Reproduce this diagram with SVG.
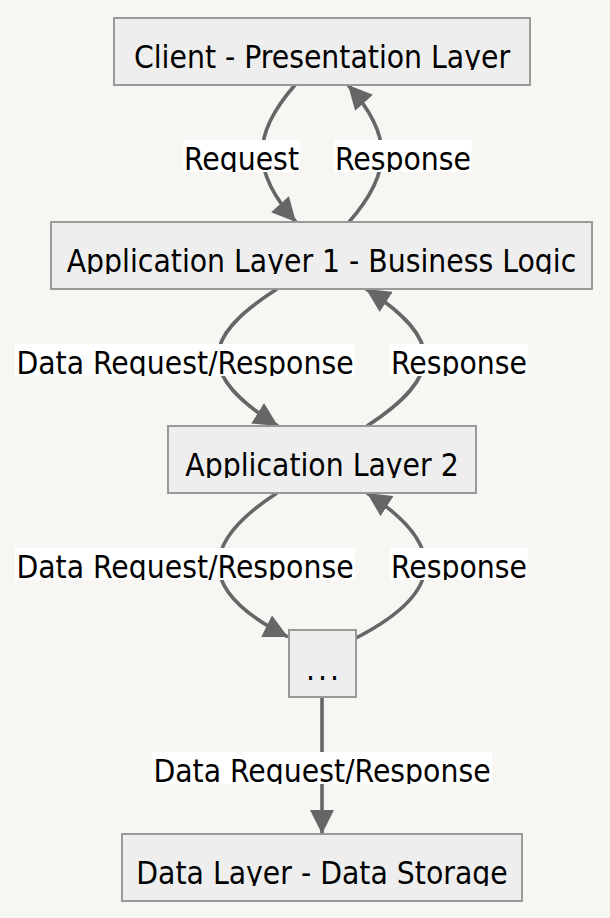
<svg xmlns="http://www.w3.org/2000/svg" width="610" height="918" viewBox="0 0 610 918">
<style>
.bg{fill:#f7f6f3}
.node rect{fill:#eeeeee;stroke:#999999;stroke-width:2}
.t{font-family:"DejaVu Sans Condensed","DejaVu Sans",sans-serif;font-stretch:condensed;font-size:31.5px;fill:#000;text-anchor:middle}
.edge{fill:none;stroke:#666666;stroke-width:3.6}
.lbg{fill:#ffffff}
</style>
<defs>
<marker id="arr" viewBox="0 0 10 10" refX="10" refY="5" markerUnits="userSpaceOnUse" markerWidth="24" markerHeight="24" orient="auto">
<path d="M0,0 L10,5 L0,10 z" fill="#666666"/>
</marker>
<clipPath id="c1"><rect x="100" y="18" width="440" height="52"/></clipPath>
<clipPath id="c2"><rect x="40" y="222" width="560" height="52"/></clipPath>
<clipPath id="c3"><rect x="150" y="426" width="340" height="52"/></clipPath>
<clipPath id="c4"><rect x="280" y="630" width="90" height="52"/></clipPath>
<clipPath id="c5"><rect x="110" y="834" width="420" height="52"/></clipPath>
<clipPath id="l1"><rect x="183.3" y="140" width="116.4" height="32"/></clipPath>
<clipPath id="l2"><rect x="334.3" y="140" width="137.4" height="32"/></clipPath>
<clipPath id="l3"><rect x="14.9" y="344" width="340.2" height="32"/></clipPath>
<clipPath id="l4"><rect x="390.3" y="344" width="137.4" height="32"/></clipPath>
<clipPath id="l5"><rect x="14.9" y="548" width="340.2" height="32"/></clipPath>
<clipPath id="l6"><rect x="390.3" y="548" width="137.4" height="32"/></clipPath>
<clipPath id="l7"><rect x="151.9" y="752" width="340.2" height="32"/></clipPath>
</defs>
<rect class="bg" x="0" y="0" width="610" height="918"/>
<g id="connectors">
<path class="edge" d="M295,85 C251,135 251,172 296,222" marker-end="url(#arr)"/>
<path class="edge" d="M349,222 C393,172 393,135 348,85" marker-end="url(#arr)"/>
<path class="edge" d="M277,289 C198,339 198,376 278,426" marker-end="url(#arr)"/>
<path class="edge" d="M367,426 C444,376 444,339 366,289" marker-end="url(#arr)"/>
<path class="edge" d="M277,493 C200,543 195,590 288,637" marker-end="url(#arr)"/>
<path class="edge" d="M356,638 C449,590 444,543 367,493" marker-end="url(#arr)"/>
<path class="edge" d="M322,697 L322,834" marker-end="url(#arr)"/>
<g id="edge-labels">
<rect class="lbg" x="183.3" y="140" width="116.4" height="32"/>
<text class="t" x="241.5" y="169.5" clip-path="url(#l1)">Request</text>
<rect class="lbg" x="334.3" y="140" width="137.4" height="32"/>
<text class="t" x="403" y="169.5" clip-path="url(#l2)">Response</text>
<rect class="lbg" x="14.9" y="344" width="340.2" height="32"/>
<text class="t" x="185" y="373.5" clip-path="url(#l3)">Data Request/Response</text>
<rect class="lbg" x="390.3" y="344" width="137.4" height="32"/>
<text class="t" x="459" y="373.5" clip-path="url(#l4)">Response</text>
<rect class="lbg" x="14.9" y="548" width="340.2" height="32"/>
<text class="t" x="185" y="577.5" clip-path="url(#l5)">Data Request/Response</text>
<rect class="lbg" x="390.3" y="548" width="137.4" height="32"/>
<text class="t" x="459" y="577.5" clip-path="url(#l6)">Response</text>
<rect class="lbg" x="151.9" y="752" width="340.2" height="32"/>
<text class="t" x="322" y="781.5" clip-path="url(#l7)">Data Request/Response</text>
</g>
</g>
<g id="client" class="node">
<rect x="114" y="18" width="416" height="67"/>
<text class="t" x="322" y="67.5" clip-path="url(#c1)">Client - Presentation Layer</text>
</g>
<g id="app1" class="node">
<rect x="51" y="222" width="541" height="67"/>
<text class="t" x="321.5" y="271.5" clip-path="url(#c2)">Application Layer 1 - Business Logic</text>
</g>
<g id="app2" class="node">
<rect x="168" y="426" width="308" height="67"/>
<text class="t" x="322" y="475.5" clip-path="url(#c3)">Application Layer 2</text>
</g>
<g id="dots" class="node">
<rect x="289" y="630" width="67" height="67"/>
<text class="t" x="324" y="679.5" letter-spacing="3" clip-path="url(#c4)">...</text>
</g>
<g id="data" class="node">
<rect x="122" y="834" width="400" height="67"/>
<text class="t" x="322" y="883.5" clip-path="url(#c5)">Data Layer - Data Storage</text>
</g>
</svg>
